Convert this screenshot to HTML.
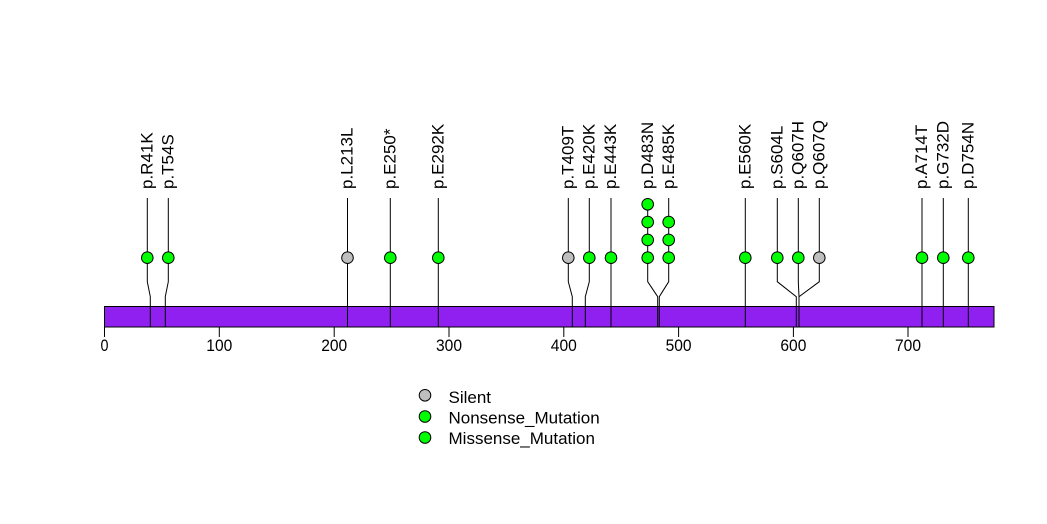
<!DOCTYPE html>
<html><head><meta charset="utf-8"><style>
html,body{margin:0;padding:0;background:#fff;}
svg{display:block;}
text{font-family:"Liberation Sans",Arial,sans-serif;font-size:17px;fill:#000;}
</style></head><body>
<svg width="1047" height="524" viewBox="0 0 1047 524" xmlns="http://www.w3.org/2000/svg">
<rect width="1047" height="524" fill="#fff"/>
<!-- bar -->
<rect x="104.5" y="306.5" width="889.5" height="20.5" fill="#9020F0" stroke="#000" stroke-width="1"/>
<!-- ticks -->
<g stroke="#000" stroke-width="1">
<line x1="104.5" y1="327" x2="104.5" y2="337"/>
<line x1="219.3" y1="327" x2="219.3" y2="337"/>
<line x1="334.2" y1="327" x2="334.2" y2="337"/>
<line x1="449" y1="327" x2="449" y2="337"/>
<line x1="563.8" y1="327" x2="563.8" y2="337"/>
<line x1="678.6" y1="327" x2="678.6" y2="337"/>
<line x1="793.4" y1="327" x2="793.4" y2="337"/>
<line x1="908" y1="327" x2="908" y2="337"/>
</g>
<g text-anchor="middle">
<text x="104.5" y="351" textLength="8" lengthAdjust="spacingAndGlyphs">0</text>
<text x="219.3" y="351" textLength="26" lengthAdjust="spacingAndGlyphs">100</text>
<text x="334.2" y="351" textLength="26" lengthAdjust="spacingAndGlyphs">200</text>
<text x="449" y="351" textLength="26" lengthAdjust="spacingAndGlyphs">300</text>
<text x="563.8" y="351" textLength="26" lengthAdjust="spacingAndGlyphs">400</text>
<text x="678.6" y="351" textLength="26" lengthAdjust="spacingAndGlyphs">500</text>
<text x="793.4" y="351" textLength="26" lengthAdjust="spacingAndGlyphs">600</text>
<text x="908" y="351" textLength="26" lengthAdjust="spacingAndGlyphs">700</text>
</g>
<!-- connectors -->
<g stroke="#000" stroke-width="1" fill="none">
<polyline points="147.3,198 147.3,281.7 150.3,296.7 150.3,327"/>
<polyline points="168.3,198 168.3,281.7 165.3,296.7 165.3,327"/>
<polyline points="347.5,198 347.5,327"/>
<polyline points="390.3,198 390.3,327"/>
<polyline points="438.3,198 438.3,327"/>
<polyline points="568.3,198 568.3,281.7 572.3,296.7 572.3,327"/>
<polyline points="589.3,198 589.3,281.7 585.3,296.7 585.3,327"/>
<polyline points="611,198 611,327"/>
<polyline points="647.7,198 647.7,281.7 657.7,296.7 657.7,327"/>
<polyline points="668.7,198 668.7,281.7 659.3,296.7 659.3,327"/>
<polyline points="745.3,198 745.3,327"/>
<polyline points="777.3,198 777.3,281.7 796.3,296.7 796.3,327"/>
<polyline points="798.3,198 798.3,281.7 799,296.7 799,327"/>
<polyline points="819.3,198 819.3,281.7 799,296.7 799,327"/>
<polyline points="922,198 922,327"/>
<polyline points="943.3,198 943.3,327"/>
<polyline points="968.3,198 968.3,327"/>
</g>
<!-- circles -->
<g stroke="#000" stroke-width="1">
<circle cx="147.3" cy="257.7" r="5.8" fill="#00FF00"/>
<circle cx="168.3" cy="257.7" r="5.8" fill="#00FF00"/>
<circle cx="347.5" cy="257.7" r="5.8" fill="#BEBEBE"/>
<circle cx="390.3" cy="257.7" r="5.8" fill="#00FF00"/>
<circle cx="438.3" cy="257.7" r="5.8" fill="#00FF00"/>
<circle cx="568.3" cy="257.7" r="5.8" fill="#BEBEBE"/>
<circle cx="589.3" cy="257.7" r="5.8" fill="#00FF00"/>
<circle cx="611" cy="257.7" r="5.8" fill="#00FF00"/>
<circle cx="647.7" cy="257.7" r="5.8" fill="#00FF00"/>
<circle cx="647.7" cy="239.9" r="5.8" fill="#00FF00"/>
<circle cx="647.7" cy="222.1" r="5.8" fill="#00FF00"/>
<circle cx="647.7" cy="204.3" r="5.8" fill="#00FF00"/>
<circle cx="668.7" cy="257.7" r="5.8" fill="#00FF00"/>
<circle cx="668.7" cy="239.9" r="5.8" fill="#00FF00"/>
<circle cx="668.7" cy="222.1" r="5.8" fill="#00FF00"/>
<circle cx="745.3" cy="257.7" r="5.8" fill="#00FF00"/>
<circle cx="777.3" cy="257.7" r="5.8" fill="#00FF00"/>
<circle cx="798.3" cy="257.7" r="5.8" fill="#00FF00"/>
<circle cx="819.3" cy="257.7" r="5.8" fill="#BEBEBE"/>
<circle cx="922" cy="257.7" r="5.8" fill="#00FF00"/>
<circle cx="943.3" cy="257.7" r="5.8" fill="#00FF00"/>
<circle cx="968.3" cy="257.7" r="5.8" fill="#00FF00"/>
</g>
<!-- labels -->
<g>
<text transform="translate(152.5,189) rotate(-90)">p.R41K</text>
<text transform="translate(173.5,189) rotate(-90)">p.T54S</text>
<text transform="translate(352.7,189) rotate(-90)">p.L213L</text>
<text transform="translate(395.5,189) rotate(-90)">p.E250*</text>
<text transform="translate(443.5,189) rotate(-90)">p.E292K</text>
<text transform="translate(573.5,189) rotate(-90)">p.T409T</text>
<text transform="translate(594.5,189) rotate(-90)">p.E420K</text>
<text transform="translate(616.2,189) rotate(-90)">p.E443K</text>
<text transform="translate(652.9,189) rotate(-90)">p.D483N</text>
<text transform="translate(673.9,189) rotate(-90)">p.E485K</text>
<text transform="translate(750.5,189) rotate(-90)">p.E560K</text>
<text transform="translate(782.5,189) rotate(-90)">p.S604L</text>
<text transform="translate(803.5,189) rotate(-90)">p.Q607H</text>
<text transform="translate(824.5,189) rotate(-90)">p.Q607Q</text>
<text transform="translate(927.2,189) rotate(-90)">p.A714T</text>
<text transform="translate(948.5,189) rotate(-90)">p.G732D</text>
<text transform="translate(973.5,189) rotate(-90)">p.D754N</text>
</g>
<!-- legend -->
<g stroke="#000" stroke-width="1">
<circle cx="425" cy="395.3" r="5.8" fill="#BEBEBE"/>
<circle cx="425" cy="416.5" r="5.8" fill="#00FF00"/>
<circle cx="425" cy="437.5" r="5.8" fill="#00FF00"/>
</g>
<text x="448.5" y="403">Silent</text>
<text x="448.5" y="423.5">Nonsense_Mutation</text>
<text x="448.5" y="444">Missense_Mutation</text>
</svg>
</body></html>
